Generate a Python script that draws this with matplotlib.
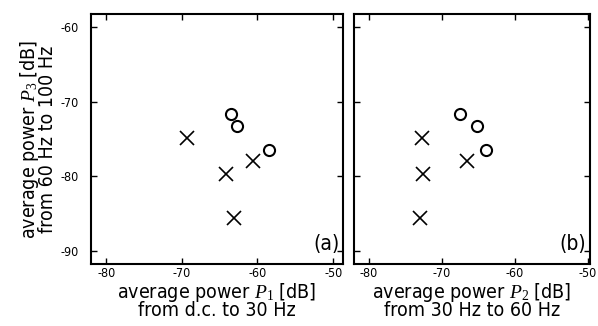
import matplotlib.pyplot as plt

# average power P3 (60-100 Hz) shared by both panels
p3_circ = [-71.6, -73.2, -76.5]
p3_cross = [-74.8, -79.7, -78.0, -85.6]

# panel (a): P1, d.c. to 30 Hz
p1_circ = [-63.5, -62.7, -58.5]
p1_cross = [-69.3, -64.1, -60.6, -63.1]

# panel (b): P2, 30 Hz to 60 Hz
p2_circ = [-67.5, -65.2, -64.0]
p2_cross = [-72.7, -72.5, -66.6, -73.0]

xticks = [-80, -70, -60, -50]
yticks = [-60, -70, -80, -90]

plt.rcParams['font.family'] = ['Liberation Sans Narrow', 'DejaVu Sans']
plt.rcParams['font.stretch'] = 'condensed'
plt.rcParams['mathtext.fontset'] = 'custom'
plt.rcParams['mathtext.it'] = 'Liberation Serif:italic'
plt.rcParams['mathtext.rm'] = 'Liberation Serif'

fig = plt.figure(figsize=(5.98, 3.26), dpi=100)
W, H = 598, 326
ax_a = fig.add_axes([91 / W, 1 - 264 / H, 252 / W, 250 / H])
ax_b = fig.add_axes([354 / W, 1 - 264 / H, 236 / W, 250 / H])

panels = [
    (ax_a, p1_circ, p1_cross, (-82.0, -48.7), 'average power $P_1$ [dB]\nfrom d.c. to 30 Hz', '(a)'),
    (ax_b, p2_circ, p2_cross, (-82.0, -49.7), 'average power $P_2$ [dB]\nfrom 30 Hz to 60 Hz', '(b)'),
]

for ax, xc, xx, xlim, xlabel, tag in panels:
    ax.plot(xc, p3_circ, 'o', ms=8, mfc='none', mec='black', mew=1.5)
    ax.plot(xx, p3_cross, 'x', ms=10, mec='black', mew=1.2)
    ax.set_xlim(*xlim)
    ax.set_ylim(-91.7, -58.3)
    ax.set_xticks(xticks)
    ax.set_yticks(yticks)
    ax.set_xticklabels([str(v) for v in xticks])
    ax.tick_params(direction='in', length=4, width=1, top=True, right=True,
                   labelsize=9, pad=2)
    ax.tick_params(axis='y', pad=9)
    for s in ax.spines.values():
        s.set_linewidth(1.5)
    ax.set_xlabel(xlabel, fontsize=14, linespacing=0.8, labelpad=1)
    ax.text(0.985, 0.04, tag, transform=ax.transAxes, ha='right', va='bottom',
            fontsize=15)

ax_a.set_yticklabels([str(v) for v in yticks])
ax_a.set_ylabel('average power $P_3$ [dB]\nfrom 60 Hz to 100 Hz', fontsize=14,
                linespacing=0.8, labelpad=2)
ax_b.set_yticklabels([])

fig.savefig('out.png', dpi=100)
